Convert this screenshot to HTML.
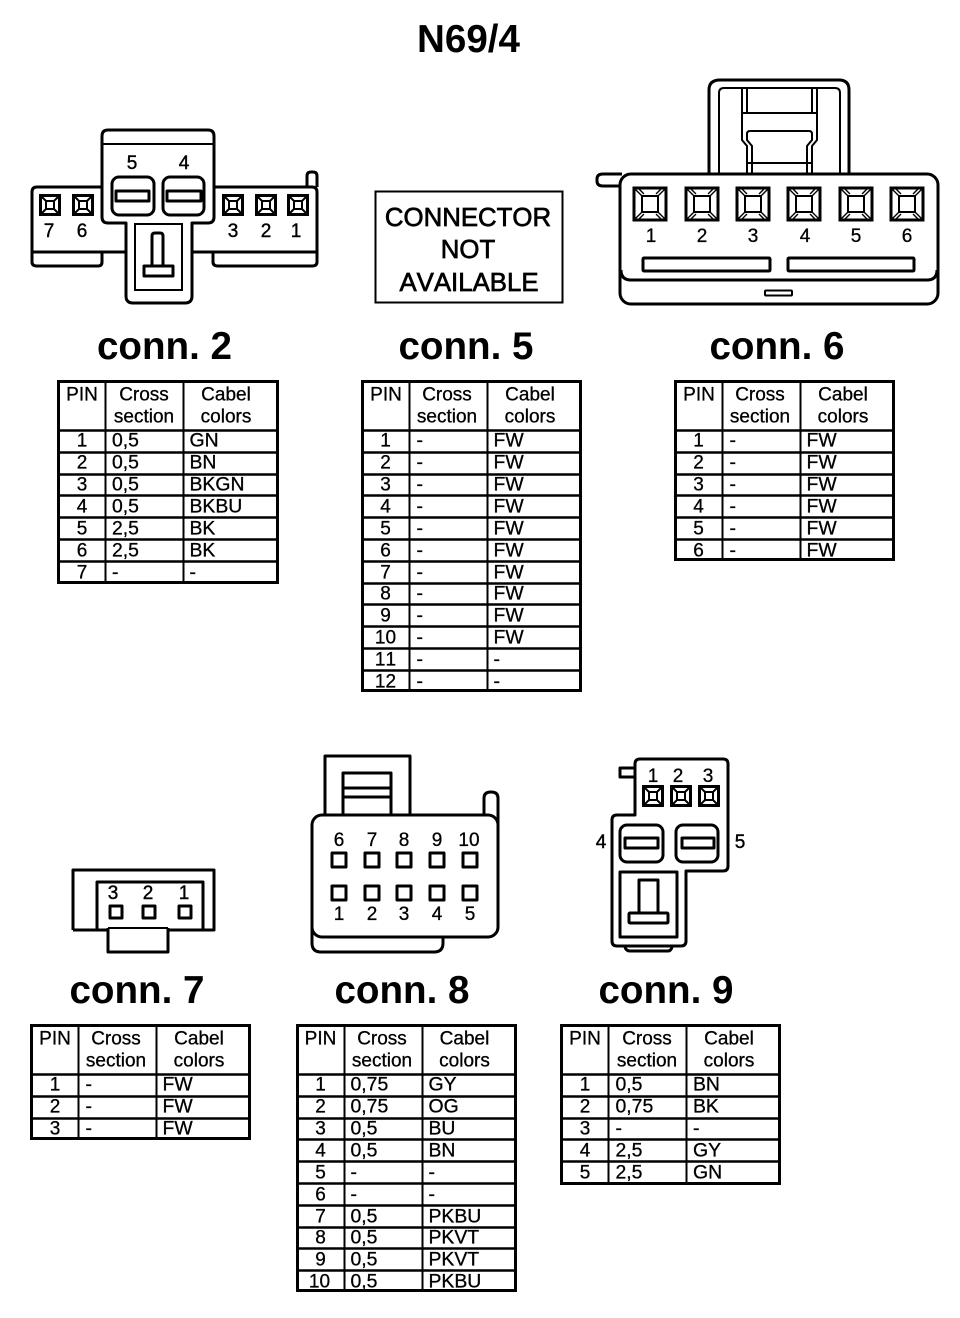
<!DOCTYPE html>
<html><head><meta charset="utf-8">
<style>
html,body{margin:0;padding:0;background:#fff}
svg{display:block}
text{font-family:"Liberation Sans",Arial,sans-serif;fill:#000;font-kerning:none}
.t{font-size:19.4px;stroke:#000;stroke-width:.3}
.c{font-size:19px;text-anchor:middle;stroke:#000;stroke-width:.3}
.h{font-size:38.6px;font-weight:bold;text-anchor:middle}
.b{font-size:25.8px;text-anchor:middle;stroke:#000;stroke-width:.7}
.n{font-size:19px;text-anchor:middle;stroke:#000;stroke-width:.4}
.d{fill:none;stroke:#000;stroke-width:3;stroke-linejoin:round}
.e{fill:none;stroke:#000;stroke-width:2}
.o{fill:none;stroke:#000;stroke-width:3}
.r{fill:none;stroke:#000;stroke-width:2.6}
</style></head><body>
<svg width="960" height="1318" viewBox="0 0 960 1318" xmlns="http://www.w3.org/2000/svg">
<defs>
<g id="ps"><rect x="-9.5" y="-9.5" width="19" height="19" fill="none" stroke="#000" stroke-width="3"/><rect x="-4" y="-4" width="8" height="8" fill="none" stroke="#000" stroke-width="2"/><path d="M-9-9L-4-4M9-9L4-4M-9 9L-4 4M9 9L4 4" stroke="#000" stroke-width="2"/></g>
<g id="pl"><rect x="-16" y="-16" width="32" height="32" fill="none" stroke="#000" stroke-width="3"/><rect x="-8" y="-8" width="16" height="16" fill="none" stroke="#000" stroke-width="2"/><path d="M-16-16L-8-8M16-16L8-8M-16 16L-8 8M16 16L8 8M-12-16L-6-10M12-16L6-10M-12 16L-6 10M12 16L6 10" stroke="#000" stroke-width="1.4"/></g>
</defs>

<text x="468.5" y="52" class="h">N69/4</text>

<!-- conn 2 drawing -->
<g>
<path class="d" d="M102 187H37Q32 187 32 192V262Q32 266 37 266H98Q102 266 102 262V252M32 252H126M192 252H317M213 252V262Q213 266 218 266H312Q317 266 317 262V192Q317 187 312 187H214"/>
<path class="d" d="M307 187V176Q307 172 311 172H313Q317 172 317 176V187"/>
<path class="d" d="M108 130H208Q214 130 214 136V217Q214 223 208 223H192V296Q192 303 185 303H133Q126 303 126 296V223H108Q102 223 102 217V136Q102 130 108 130Z"/>
<path class="e" d="M103 144H213"/>
<rect class="e" x="135" y="224" width="47" height="66"/>
<path class="d" d="M152 266V236Q152 233 155 233H160Q163 233 163 236V266"/>
<rect class="d" x="144" y="266" width="29" height="10"/>
<rect class="d" x="112" y="177" width="42" height="38" rx="7"/>
<rect class="d" x="163" y="177" width="41" height="38" rx="7"/>
<rect class="d" x="116" y="191" width="33" height="10"/>
<rect class="d" x="167" y="191" width="34" height="10"/>
<use href="#ps" x="50" y="205"/><use href="#ps" x="83" y="205"/><use href="#ps" x="233" y="205"/><use href="#ps" x="266" y="205"/><use href="#ps" x="298" y="205"/>
<text class="n" x="132" y="169">5</text><text class="n" x="184" y="169">4</text>
<text class="n" x="49" y="237">7</text><text class="n" x="82" y="237">6</text><text class="n" x="233" y="237">3</text><text class="n" x="266" y="237">2</text><text class="n" x="296" y="237">1</text>
</g>

<!-- not available -->
<rect x="375.5" y="191.5" width="187" height="111" fill="none" stroke="#000" stroke-width="2"/>
<text class="b" x="468" y="226">CONNECTOR</text>
<text class="b" x="468" y="258">NOT</text>
<text class="b" x="469" y="291">AVAILABLE</text>

<!-- conn 6 drawing -->
<g>
<path class="d" d="M709 173V90Q709 80 720 80H839Q849 80 849 90V173"/>
<path class="e" d="M719 173V93Q719 88 724 88H835Q840 88 840 93V173"/>
<path class="e" d="M742 88V140L747 146V173M747 88V113M812 88V113M817 88V140L812 146V173M742 113H817"/>
<path class="e" d="M747 134Q747 131 750 131H809Q812 131 812 134V140L807 146V173M747 134V140L752 146V173M748 163H811"/>
<rect class="d" x="620" y="174" width="318" height="130" rx="11"/>
<path class="d" d="M621 270Q621 280 631 280H927Q937 280 937 270"/>
<path class="d" d="M620 186H603Q597 186 597 181V179Q597 174 603 174H622"/>
<rect class="d" x="643" y="258" width="127" height="13" rx="1"/>
<rect class="d" x="788" y="258" width="126" height="13" rx="1"/>
<rect class="e" x="765" y="290.500" width="27" height="5" rx="1"/>
<use href="#pl" x="650" y="204"/><use href="#pl" x="702" y="204"/><use href="#pl" x="753" y="204"/><use href="#pl" x="804" y="204"/><use href="#pl" x="856" y="204"/><use href="#pl" x="907" y="204"/>
<text class="c" x="651" y="242">1</text><text class="c" x="702" y="242">2</text><text class="c" x="753" y="242">3</text><text class="c" x="805" y="242">4</text><text class="c" x="856" y="242">5</text><text class="c" x="907" y="242">6</text>
</g>

<text class="h" x="164.500" y="359">conn. 2</text>
<text class="h" x="466" y="359">conn. 5</text>
<text class="h" x="777" y="359">conn. 6</text>

<!-- conn 7 drawing -->
<g>
<path class="d" d="M73 930V870H214V930H168M108 930H73"/>
<path class="d" d="M97 929V882H203V929"/>
<path class="e" d="M108 928H168"/>
<path class="d" d="M108 928V952H168V928"/>
<rect class="d" x="110" y="906" width="12" height="12"/>
<rect class="d" x="143" y="906" width="12" height="12"/>
<rect class="d" x="179" y="906" width="12" height="12"/>
<text class="n" x="113" y="899">3</text><text class="n" x="148" y="899">2</text><text class="n" x="184" y="899">1</text>
</g>

<!-- conn 8 drawing -->
<g>
<path class="d" d="M325 815V756H410V815"/>
<path class="d" d="M343 815V773H391V815"/>
<path class="d" d="M343 788H391M343 797H391"/>
<rect class="d" x="312" y="815" width="186" height="122" rx="10"/>
<path class="d" d="M312 925V943Q312 952 321 952H434Q443 952 443 943V938"/>
<path class="d" d="M484 815V798Q484 792 491 792Q498 792 498 798V825"/>
<g class="d">
<rect x="332" y="853" width="14" height="14"/><rect x="365" y="853" width="14" height="14"/><rect x="397" y="853" width="14" height="14"/><rect x="430" y="853" width="14" height="14"/><rect x="463" y="853" width="14" height="14"/>
<rect x="332" y="886" width="14" height="14"/><rect x="365" y="886" width="14" height="14"/><rect x="397" y="886" width="14" height="14"/><rect x="430" y="886" width="14" height="14"/><rect x="463" y="886" width="14" height="14"/>
</g>
<text class="c" x="339" y="846">6</text><text class="c" x="372" y="846">7</text><text class="c" x="404" y="846">8</text><text class="c" x="437" y="846">9</text><text class="c" x="469" y="846">10</text>
<text class="c" x="339" y="920">1</text><text class="c" x="372" y="920">2</text><text class="c" x="404" y="920">3</text><text class="c" x="437" y="920">4</text><text class="c" x="470" y="920">5</text>
</g>

<!-- conn 9 drawing -->
<g>
<path class="d" d="M635 815V764Q635 759 640 759H723Q728 759 728 764V866Q728 871 723 871H686V941Q686 946 681 946H617Q612 946 612 941V820Q612 815 617 815Z"/>
<path class="d" d="M625 947Q626 951 630 951H668Q671 951 672 947"/>
<path class="d" d="M635 768H620V777H635"/>
<use href="#ps" x="653" y="796"/><use href="#ps" x="681" y="796"/><use href="#ps" x="709" y="796"/>
<text class="c" x="653" y="782">1</text><text class="c" x="678" y="782">2</text><text class="c" x="708" y="782">3</text>
<text class="n" x="601" y="848">4</text><text class="n" x="740" y="848">5</text>
<rect class="d" x="620" y="825" width="43" height="37" rx="7"/>
<rect class="d" x="676" y="825" width="42" height="37" rx="7"/>
<rect class="d" x="625" y="838" width="33" height="10"/>
<rect class="d" x="682" y="838" width="32" height="10"/>
<rect class="d" x="620" y="872" width="57" height="65"/>
<path class="d" d="M639 913V880H658V913"/>
<rect class="d" x="629" y="913" width="39" height="10" rx="1"/>
</g>

<text class="h" x="137" y="1003">conn. 7</text>
<text class="h" x="402" y="1003">conn. 8</text>
<text class="h" x="666" y="1003">conn. 9</text>

<!-- TABLE conn 2 -->
<g transform="translate(58.500,381.500)">
<rect class="o" x="0" y="0" width="219" height="201"/>
<path class="e" d="M47 0V201M125 0V201"/>
<path class="r" d="M0 49H219M0 71H219M0 93H219M0 114H219M0 136H219M0 158H219M0 180H219"/>
<text class="c" x="23.500" y="19">PIN</text><text class="c" x="85.500" y="19">Cross</text><text class="c" x="85.500" y="41">section</text><text class="c" x="167.500" y="19">Cabel</text><text class="c" x="167.500" y="41">colors</text>
<text class="c" x="23.500" y="65">1</text><text class="t" x="53.500" y="65">0,5</text><text class="t" x="131" y="65">GN</text>
<text class="c" x="23.500" y="87">2</text><text class="t" x="53.500" y="87">0,5</text><text class="t" x="131" y="87">BN</text>
<text class="c" x="23.500" y="109">3</text><text class="t" x="53.500" y="109">0,5</text><text class="t" x="131" y="109">BKGN</text>
<text class="c" x="23.500" y="131">4</text><text class="t" x="53.500" y="131">0,5</text><text class="t" x="131" y="131">BKBU</text>
<text class="c" x="23.500" y="153">5</text><text class="t" x="53.500" y="153">2,5</text><text class="t" x="131" y="153">BK</text>
<text class="c" x="23.500" y="175">6</text><text class="t" x="53.500" y="175">2,5</text><text class="t" x="131" y="175">BK</text>
<text class="c" x="23.500" y="197">7</text><text class="t" x="53.500" y="197">-</text><text class="t" x="131" y="197">-</text>
</g>

<!-- TABLE conn 5 -->
<g transform="translate(362.500,381.500)">
<rect class="o" x="0" y="0" width="218" height="309"/>
<path class="e" d="M47 0V309M125 0V309"/>
<path class="r" d="M0 49H218M0 71H218M0 93H218M0 114H218M0 136H218M0 158H218M0 180H218M0 202H218M0 223H218M0 245H218M0 267H218M0 289H218"/>
<text class="c" x="23.500" y="19">PIN</text><text class="c" x="84.500" y="19">Cross</text><text class="c" x="84.500" y="41">section</text><text class="c" x="167.500" y="19">Cabel</text><text class="c" x="167.500" y="41">colors</text>
<text class="c" x="23" y="65">1</text><text class="t" x="54" y="65">-</text><text class="t" x="131" y="65">FW</text>
<text class="c" x="23" y="87">2</text><text class="t" x="54" y="87">-</text><text class="t" x="131" y="87">FW</text>
<text class="c" x="23" y="109">3</text><text class="t" x="54" y="109">-</text><text class="t" x="131" y="109">FW</text>
<text class="c" x="23" y="131">4</text><text class="t" x="54" y="131">-</text><text class="t" x="131" y="131">FW</text>
<text class="c" x="23" y="153">5</text><text class="t" x="54" y="153">-</text><text class="t" x="131" y="153">FW</text>
<text class="c" x="23" y="175">6</text><text class="t" x="54" y="175">-</text><text class="t" x="131" y="175">FW</text>
<text class="c" x="23" y="197">7</text><text class="t" x="54" y="197">-</text><text class="t" x="131" y="197">FW</text>
<text class="c" x="23" y="218">8</text><text class="t" x="54" y="218">-</text><text class="t" x="131" y="218">FW</text>
<text class="c" x="23" y="240">9</text><text class="t" x="54" y="240">-</text><text class="t" x="131" y="240">FW</text>
<text class="c" x="23" y="262">10</text><text class="t" x="54" y="262">-</text><text class="t" x="131" y="262">FW</text>
<text class="c" x="23" y="284">11</text><text class="t" x="54" y="284">-</text><text class="t" x="131" y="284">-</text>
<text class="c" x="23" y="306">12</text><text class="t" x="54" y="306">-</text><text class="t" x="131" y="306">-</text>
</g>

<!-- TABLE conn 6 -->
<g transform="translate(675.500,381.500)">
<rect class="o" x="0" y="0" width="218" height="178"/>
<path class="e" d="M47 0V178M125 0V178"/>
<path class="r" d="M0 49H218M0 71H218M0 93H218M0 114H218M0 136H218M0 158H218"/>
<text class="c" x="23.500" y="19">PIN</text><text class="c" x="84.500" y="19">Cross</text><text class="c" x="84.500" y="41">section</text><text class="c" x="167.500" y="19">Cabel</text><text class="c" x="167.500" y="41">colors</text>
<text class="c" x="23" y="65">1</text><text class="t" x="54" y="65">-</text><text class="t" x="131" y="65">FW</text>
<text class="c" x="23" y="87">2</text><text class="t" x="54" y="87">-</text><text class="t" x="131" y="87">FW</text>
<text class="c" x="23" y="109">3</text><text class="t" x="54" y="109">-</text><text class="t" x="131" y="109">FW</text>
<text class="c" x="23" y="131">4</text><text class="t" x="54" y="131">-</text><text class="t" x="131" y="131">FW</text>
<text class="c" x="23" y="153">5</text><text class="t" x="54" y="153">-</text><text class="t" x="131" y="153">FW</text>
<text class="c" x="23" y="175">6</text><text class="t" x="54" y="175">-</text><text class="t" x="131" y="175">FW</text>
</g>

<!-- TABLE conn 7 -->
<g transform="translate(31.500,1025.500)">
<rect class="o" x="0" y="0" width="218" height="113"/>
<path class="e" d="M47 0V113M125 0V113"/>
<path class="r" d="M0 49H218M0 71H218M0 93H218"/>
<text class="c" x="23.500" y="19">PIN</text><text class="c" x="84.500" y="19">Cross</text><text class="c" x="84.500" y="41">section</text><text class="c" x="167.500" y="19">Cabel</text><text class="c" x="167.500" y="41">colors</text>
<text class="c" x="23.500" y="65">1</text><text class="t" x="54" y="65">-</text><text class="t" x="131" y="65">FW</text>
<text class="c" x="23.500" y="87">2</text><text class="t" x="54" y="87">-</text><text class="t" x="131" y="87">FW</text>
<text class="c" x="23.500" y="109">3</text><text class="t" x="54" y="109">-</text><text class="t" x="131" y="109">FW</text>
</g>

<!-- TABLE conn 8 -->
<g transform="translate(297.500,1025.500)">
<rect class="o" x="0" y="0" width="218" height="265"/>
<path class="e" d="M47 0V265M125 0V265"/>
<path class="r" d="M0 49H218M0 71H218M0 93H218M0 114H218M0 136H218M0 158H218M0 180H218M0 202H218M0 223H218M0 245H218"/>
<text class="c" x="23" y="19">PIN</text><text class="c" x="84.500" y="19">Cross</text><text class="c" x="84.500" y="41">section</text><text class="c" x="167" y="19">Cabel</text><text class="c" x="167" y="41">colors</text>
<text class="c" x="23" y="65">1</text><text class="t" x="53" y="65">0,75</text><text class="t" x="131" y="65">GY</text>
<text class="c" x="23" y="87">2</text><text class="t" x="53" y="87">0,75</text><text class="t" x="131" y="87">OG</text>
<text class="c" x="23" y="109">3</text><text class="t" x="53" y="109">0,5</text><text class="t" x="131" y="109">BU</text>
<text class="c" x="23" y="131">4</text><text class="t" x="53" y="131">0,5</text><text class="t" x="131" y="131">BN</text>
<text class="c" x="23" y="153">5</text><text class="t" x="53" y="153">-</text><text class="t" x="131" y="153">-</text>
<text class="c" x="23" y="175">6</text><text class="t" x="53" y="175">-</text><text class="t" x="131" y="175">-</text>
<text class="c" x="23" y="197">7</text><text class="t" x="53" y="197">0,5</text><text class="t" x="131" y="197">PKBU</text>
<text class="c" x="23" y="218">8</text><text class="t" x="53" y="218">0,5</text><text class="t" x="131" y="218">PKVT</text>
<text class="c" x="23" y="240">9</text><text class="t" x="53" y="240">0,5</text><text class="t" x="131" y="240">PKVT</text>
<text class="c" x="22" y="262">10</text><text class="t" x="53" y="262">0,5</text><text class="t" x="131" y="262">PKBU</text>
</g>

<!-- TABLE conn 9 -->
<g transform="translate(561.500,1025.500)">
<rect class="o" x="0" y="0" width="218" height="158"/>
<path class="e" d="M47 0V158M125 0V158"/>
<path class="r" d="M0 49H218M0 71H218M0 93H218M0 114H218M0 136H218"/>
<text class="c" x="23.500" y="19">PIN</text><text class="c" x="85.500" y="19">Cross</text><text class="c" x="85.500" y="41">section</text><text class="c" x="167.500" y="19">Cabel</text><text class="c" x="167.500" y="41">colors</text>
<text class="c" x="23.500" y="65">1</text><text class="t" x="54" y="65">0,5</text><text class="t" x="131.500" y="65">BN</text>
<text class="c" x="23.500" y="87">2</text><text class="t" x="54" y="87">0,75</text><text class="t" x="131.500" y="87">BK</text>
<text class="c" x="23.500" y="109">3</text><text class="t" x="54" y="109">-</text><text class="t" x="131.500" y="109">-</text>
<text class="c" x="23.500" y="131">4</text><text class="t" x="54" y="131">2,5</text><text class="t" x="131.500" y="131">GY</text>
<text class="c" x="23.500" y="153">5</text><text class="t" x="54" y="153">2,5</text><text class="t" x="131.500" y="153">GN</text>
</g>
</svg>
</body></html>
